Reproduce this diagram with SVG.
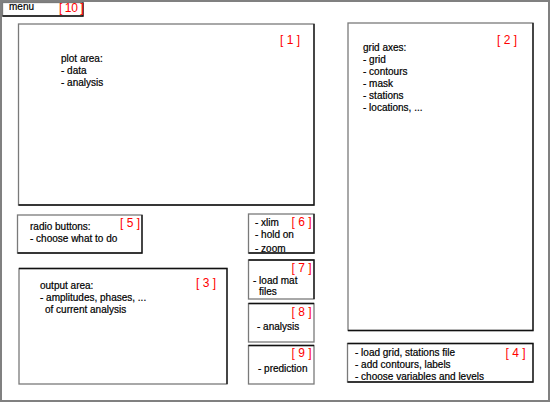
<svg xmlns="http://www.w3.org/2000/svg" width="551" height="403" viewBox="0 0 551 403">
<style>
.frame{fill:#fff;stroke:#7a7a7a;stroke-width:1.3}
.edge{fill:none;stroke:#111;stroke-width:1.3}
.t{font-family:"Liberation Sans",Arial,sans-serif;font-size:10px;fill:#000;stroke:#000;stroke-width:0.2}
.n{font-family:"Liberation Sans",Arial,sans-serif;font-size:12px;fill:#f00}
</style>
<rect width="551" height="403" fill="#fff"/>
<g id="window">
<rect x="1" y="1" width="548" height="400" fill="none" stroke="#808080" stroke-width="2"/>
</g>
<g id="menu">
<rect class="frame" x="2.5" y="2.5" width="80.5" height="13.5"/>
<polyline class="edge" points="83,2.5 83,16 2.5,16"/>
<text class="t" x="9" y="10">menu</text>
<text class="n" x="59" y="12" font-size="10.5" letter-spacing="-0.4">[ 10 ]</text>
</g>
<g id="n1">
<rect class="frame" x="18.5" y="24" width="295.5" height="181"/>
<polyline class="edge" points="314,24 314,205 18.5,205"/>
<text class="n" x="280" y="44">[ 1 ]</text>
<text class="t" x="61" y="62">plot area:</text>
<text class="t" x="61" y="74">- data</text>
<text class="t" x="61" y="86">- analysis</text>
</g>
<g id="n2">
<rect class="frame" x="348" y="23" width="185" height="307.5"/>
<polyline class="edge" points="533,23 533,330.5 348,330.5"/>
<text class="n" x="497" y="44">[ 2 ]</text>
<text class="t" x="363" y="51">grid axes:</text>
<text class="t" x="363" y="63">- grid</text>
<text class="t" x="363" y="75">- contours</text>
<text class="t" x="363" y="87">- mask</text>
<text class="t" x="363" y="99">- stations</text>
<text class="t" x="363" y="111">- locations, ...</text>
</g>
<g id="n5">
<rect class="frame" x="17.5" y="215" width="124.5" height="38"/>
<polyline class="edge" points="142,215 142,253 17.5,253"/>
<text class="n" x="120" y="227">[ 5 ]</text>
<text class="t" x="30" y="230">radio buttons:</text>
<text class="t" x="30" y="242">- choose what to do</text>
</g>
<g id="n3">
<rect class="frame" x="19" y="268.5" width="208" height="115.5"/>
<polyline class="edge" points="19,268.5 227,268.5 227,384"/>
<text class="n" x="196" y="287">[ 3 ]</text>
<text class="t" x="40" y="289">output area:</text>
<text class="t" x="40" y="301">- amplitudes, phases, ...</text>
<text class="t" x="45" y="313">of current analysis</text>
</g>
<g id="n6">
<rect class="frame" x="248.5" y="214" width="65.5" height="39"/>
<polyline class="edge" points="314,214 314,253 248.5,253"/>
<text class="n" x="291.5" y="226">[ 6 ]</text>
<text class="t" x="255" y="226">- xlim</text>
<text class="t" x="255" y="238">- hold on</text>
<text class="t" x="255" y="252">- zoom</text>
</g>
<g id="n7">
<rect class="frame" x="248.5" y="260" width="65.5" height="39"/>
<polyline class="edge" points="248.5,260 314,260 314,299"/>
<text class="n" x="291.5" y="272">[ 7 ]</text>
<text class="t" x="253" y="284">- load mat</text>
<text class="t" x="259" y="295">files</text>
</g>
<g id="n8">
<rect class="frame" x="248.5" y="303.5" width="65.5" height="38.5"/>
<polyline class="edge" points="248.5,303.5 314,303.5"/>
<text class="n" x="291.5" y="316">[ 8 ]</text>
<text class="t" x="257" y="330">- analysis</text>
</g>
<g id="n9">
<rect class="frame" x="248.5" y="345.5" width="65.5" height="38.5"/>
<polyline class="edge" points="248.5,345.5 314,345.5"/>
<text class="n" x="291.5" y="357">[ 9 ]</text>
<text class="t" x="258" y="372">- prediction</text>
</g>
<g id="n4">
<rect class="frame" x="347.5" y="343.5" width="185.5" height="38.5"/>
<polyline class="edge" points="347.5,343.5 533,343.5 533,382 347.5,382"/>
<text class="n" x="505.5" y="357">[ 4 ]</text>
<text class="t" x="355" y="356">- load grid, stations file</text>
<text class="t" x="355" y="368">- add contours, labels</text>
<text class="t" x="355" y="380">- choose variables and levels</text>
</g>
<g id="connectors"></g>
</svg>
